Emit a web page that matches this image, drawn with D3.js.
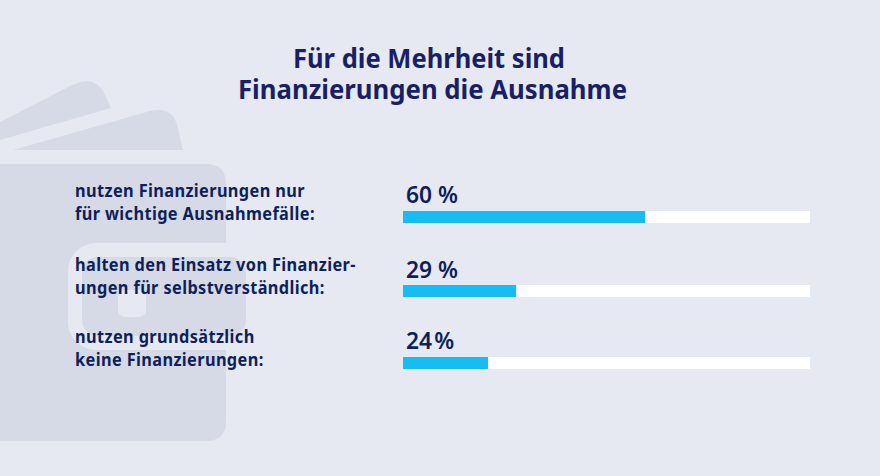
<!DOCTYPE html>
<html><head><meta charset="utf-8">
<script src="https://cdn.jsdelivr.net/npm/d3@7"></script>
<style>html,body{margin:0;padding:0;background:#e6e9f2}svg{display:block}</style>
</head><body><div id="c"></div>
<script>
const titleLines = ["Für die Mehrheit sind", "Finanzierungen die Ausnahme"];
const categories = [
  ["nutzen Finanzierungen nur", "für wichtige Ausnahmefälle:"],
  ["halten den Einsatz von Finanzier-", "ungen für selbstverständlich:"],
  ["nutzen grundsätzlich", "keine Finanzierungen:"]
];
const valueLabels = ["60 %", "29 %", "24 %"];
const barLengths = [59.5, 27.8, 20.9];

const svg = d3.select("#c").append("svg").attr("width", 880).attr("height", 476);
svg.append("rect").attr("width", 880).attr("height", 476).attr("fill", "#e6e9f2");

const deco = svg.append("g");
const dc = "#d6dae6", bgc = "#e6e9f2";
deco.append("path").attr("fill", dc).attr("d", "M0,122 L72,85 Q96,74 105,95 L111,108 L0,140 Z");
deco.append("path").attr("fill", dc).attr("d", "M13,150 L150,111 Q172,106 177,125 L183,150 Z");
deco.append("path").attr("fill", dc).attr("d", "M0,164 H206 Q226,164 226,184 V421 Q226,441 206,441 H0 Z");
deco.append("rect").attr("x", 68).attr("y", 243).attr("width", 200).attr("height", 107).attr("rx", 28).attr("fill", bgc);
deco.append("rect").attr("x", 82).attr("y", 257).attr("width", 164).attr("height", 79).attr("rx", 16).attr("fill", dc);
deco.append("rect").attr("x", 118).attr("y", 290).attr("width", 28).attr("height", 27).attr("rx", 7).attr("fill", bgc);

const font = "'Noto Sans', sans-serif";
const fit = (sel, k) => sel.attr("lengthAdjust", "spacingAndGlyphs")
  .attr("textLength", function () { return this.getComputedTextLength() * k; });

svg.append("g").selectAll("text").data(titleLines).join("text")
  .attr("x", (d, i) => i ? 238 : 293).attr("y", (d, i) => 68 + i * 31)
  .attr("font-family", font).attr("font-weight", 700)
  .attr("font-size", 27.5).attr("fill", "#1a1f63")
  .attr("textLength", (d, i) => i ? 389 : 272)
  .attr("lengthAdjust", "spacingAndGlyphs").text(d => d);

const x = d3.scaleLinear().domain([0, 100]).range([403, 810]);
const y = d3.scaleOrdinal().domain([0, 1, 2]).range([211, 285, 357]);
const valueBase = [203, 278, 349];
const rows = svg.append("g").selectAll("g").data(barLengths).join("g");
rows.append("rect").attr("x", x(0)).attr("y", (d, i) => y(i)).attr("width", x(100) - x(0)).attr("height", 12).attr("fill", "#fff");
rows.append("rect").attr("x", x(0)).attr("y", (d, i) => y(i)).attr("width", d => x(d) - x(0)).attr("height", 12).attr("fill", "#17bdf2");
rows.append("text").attr("x", 406).attr("y", (d, i) => valueBase[i])
  .attr("font-family", font).attr("font-weight", 600).attr("font-size", 24).attr("fill", "#0e1f5c")
  .attr("word-spacing", (d, i) => i === 2 ? -4 : 0)
  .text((d, i) => valueLabels[i]).call(fit, 0.95);

const labelBase = [197, 271, 343];
categories.forEach((lines, i) => {
  lines.forEach((t, j) => {
    svg.append("text").attr("x", 75).attr("y", labelBase[i] + j * 23)
      .attr("font-family", font).attr("font-weight", 700).attr("font-size", 17)
      .attr("letter-spacing", 0.4).attr("fill", "#0e1f5c").text(t).call(fit, 0.96);
  });
});
</script></body></html>
